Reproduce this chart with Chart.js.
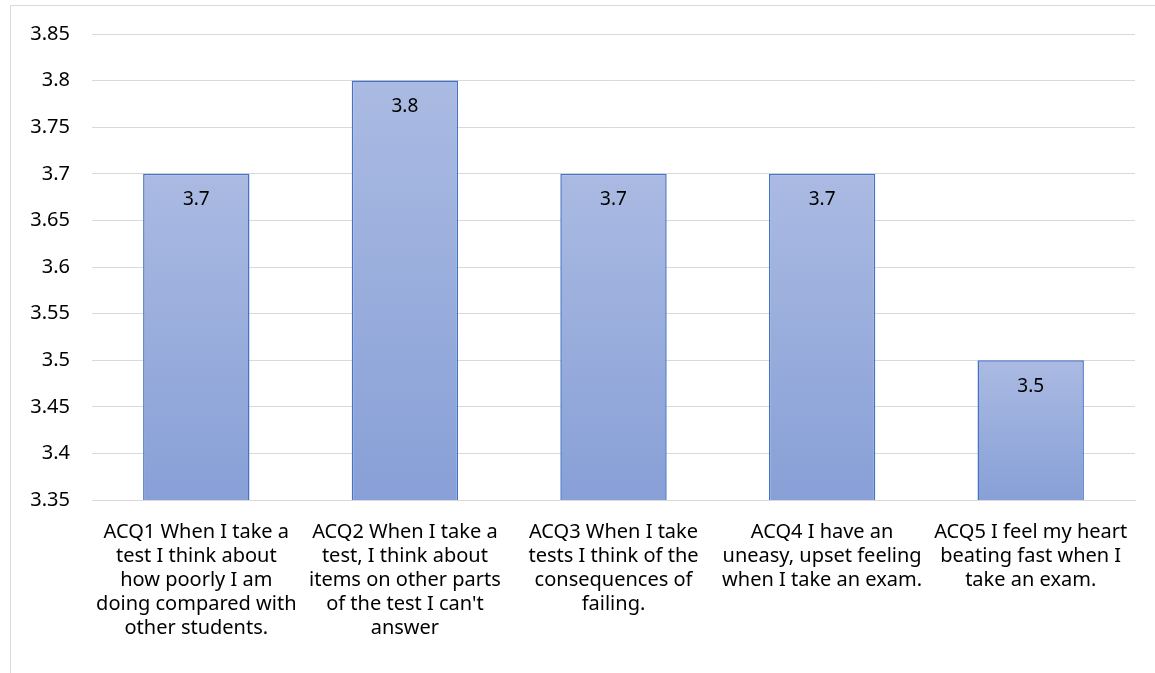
<!DOCTYPE html>
<html>
<head>
<meta charset="utf-8">
<script src="https://cdn.jsdelivr.net/npm/chart.js@4/dist/chart.umd.min.js"></script>
<style>
  html, body { margin: 0; padding: 0; background: #fff; }
  #wrap { width: 1155px; height: 673px; position: relative; }
</style>
</head>
<body>
<div id="wrap"><canvas id="myChart" width="1155" height="673"></canvas></div>
<script>
// chart data
const categories = [
  ["ACQ1 When I take a", "test I think about", "how poorly I am", "doing compared with", "other students."],
  ["ACQ2 When I take a", "test, I think about", "items on other parts", "of the test I can't", "answer"],
  ["ACQ3 When I take", "tests I think of the", "consequences of", "failing."],
  ["ACQ4 I have an", "uneasy, upset feeling", "when I take an exam."],
  ["ACQ5 I feel my heart", "beating fast when I", "take an exam."],
];
const values = [3.7, 3.8, 3.7, 3.7, 3.5];
const yMin = 3.35;
const yMax = 3.85;
const yStep = 0.05;

const FONT = "'Noto Sans', 'Open Sans', sans-serif";

// per-bar vertical gradient like the excel fill
const barFill = (ctx) => {
  const chart = ctx.chart;
  const area = chart.chartArea;
  if (!area || !chart.scales.y) return "#9aafdd";
  const top = chart.scales.y.getPixelForValue(values[ctx.dataIndex]);
  const g = chart.ctx.createLinearGradient(0, top, 0, area.bottom);
  g.addColorStop(0, "#aabae2");
  g.addColorStop(1, "#88a0d7");
  return g;
};

// frame lines on the left and top
const framePlugin = {
  id: "frame",
  beforeDraw(chart) {
    const c = chart.ctx;
    c.save();
    c.strokeStyle = "#d9d9d9";
    c.lineWidth = 1;
    c.beginPath();
    c.moveTo(10.5, 673);
    c.lineTo(10.5, 5.5);
    c.lineTo(1155, 5.5);
    c.stroke();
    c.restore();
  },
};

// value labels inside the bars
const valueLabels = {
  id: "valueLabels",
  afterDatasetsDraw(chart) {
    const c = chart.ctx;
    const meta = chart.getDatasetMeta(0);
    c.save();
    c.font = "19px " + FONT;
    c.fillStyle = "#000";
    c.textAlign = "center";
    c.textBaseline = "middle";
    meta.data.forEach((bar, i) => {
      c.fillText(String(values[i]), bar.x, bar.y + 26);
    });
    c.restore();
  },
};

new Chart(document.getElementById("myChart"), {
  type: "bar",
  data: {
    labels: categories,
    datasets: [
      {
        data: values,
        backgroundColor: barFill,
        borderColor: "#4472c4",
        borderWidth: 1.5,
        categoryPercentage: 1,
        barPercentage: 0.51,
      },
    ],
  },
  options: {
    responsive: false,
    animation: false,
    layout: { padding: { left: 0, right: 20, top: 34, bottom: 0 } },
    plugins: {
      legend: { display: false },
      tooltip: { enabled: false },
    },
    scales: {
      x: {
        grid: { display: false },
        border: { color: "#d9d9d9", width: 1 },
        ticks: {
          color: "#000",
          font: { family: FONT, size: 20 },
          maxRotation: 0,
          autoSkip: false,
          padding: 12,
        },
        afterFit(scale) { scale.height = 173; },
      },
      y: {
        min: yMin,
        max: yMax,
        border: { display: false },
        grid: { color: "#d9d9d9", drawTicks: false },
        ticks: {
          stepSize: yStep,
          color: "#000",
          font: { family: FONT, size: 20 },
          padding: 22,
          callback: (v) => String(Number(v.toFixed(2))),
        },
        afterFit(scale) { scale.width = 92; },
      },
    },
  },
  plugins: [framePlugin, valueLabels],
});
</script>
</body>
</html>
